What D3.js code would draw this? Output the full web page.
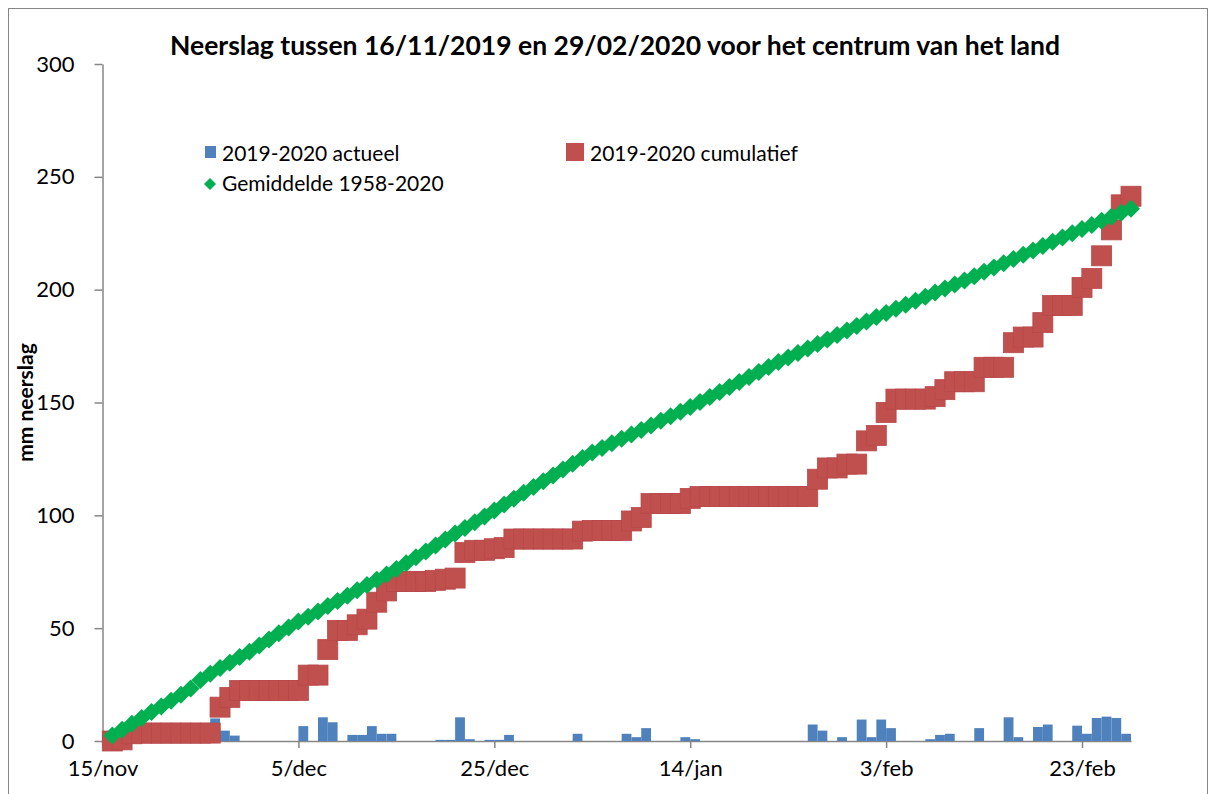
<!DOCTYPE html>
<html>
<head>
<meta charset="utf-8">
<script src="https://cdn.jsdelivr.net/npm/d3@7"></script>
<style>
  body { margin: 0; background: #fff; }
  svg text { font-family: Lato, "Open Sans", sans-serif; fill: #000; }
</style>
</head>
<body>
<svg id="chart" width="1216" height="794"></svg>
<script>
'use strict';

// days after 15/nov (1 = 16/nov ... 105 = 28/feb)
var days = d3.range(1, 106);

var xTickDays = [0, 20, 40, 60, 80, 100];
var xTickLabels = ["15/nov", "5/dec", "25/dec", "14/jan", "3/feb", "23/feb"];
var yTicks = [0, 50, 100, 150, 200, 250, 300];

// daily rainfall (mm), by day number
var actueelDays =   [1, 2, 3, 11, 12, 13, 20, 22, 23, 25, 26, 27, 28, 29, 34, 35, 36, 37, 39, 40, 41, 48, 53, 54, 55, 59, 60,
                     72, 73, 75, 77, 78, 79, 80, 84, 85, 86, 89, 92, 93, 95, 96, 99, 100, 101, 102, 103, 104];
var actueelValues = [0.5, 2.7, 0.3, 10, 4.6, 2.4, 6.6, 10.5, 8.3, 2.7, 2.7, 6.6, 3.2, 3.2, 0.5, 0.5, 10.5, 0.8, 0.5, 0.5, 2.7, 3.2, 3.2, 1.7, 5.7, 1.7, 0.8,
                     7.3, 4.6, 1.7, 9.5, 1.7, 9.5, 5.7, 0.8, 2.7, 3.2, 5.7, 10.5, 1.7, 6.2, 7.3, 6.8, 3.2, 10.2, 10.8, 10.2, 3.2];

// cumulative 2019-2020 (mm), one per day
var cumulatief = [
  0, 0.5, 3.2, 3.5, 3.5, 3.5, 3.5, 3.5, 3.5, 3.5,
  3.5, 15, 19.3, 22.4, 22.4, 22.4, 22.4, 22.4, 22.4, 22.4,
  29.2, 29.2, 40.5, 49, 49, 51.5, 54, 61.5, 66.5, 70.7,
  70.7, 70.7, 70.7, 71.2, 71.7, 72.2, 83.5, 84.5, 84.5, 85.2,
  85.7, 89.5, 89.5, 89.5, 89.5, 89.5, 89.5, 89.5, 93, 93.3,
  93.3, 93.3, 93.3, 97.5, 99, 105.2, 105.2, 105.2, 105.2, 107.5,
  108.3, 108.3, 108.3, 108.3, 108.3, 108.3, 108.3, 108.3, 108.3, 108.3,
  108.3, 108.3, 116, 121, 121, 122.7, 122.7, 133, 135.4, 145.6,
  151.5, 151.5, 151.5, 151.5, 152.6, 155.7, 159.2, 159.2, 159.2, 165.6,
  165.6, 165.6, 176.5, 179, 179, 185.4, 193, 193, 193, 201,
  205, 215, 226.5, 237.6, 241.4
];

// average 1958-2020 (mm), one per day
var gemiddelde = [
  2.4, 5.0, 7.6, 10.2, 12.8, 15.3, 17.8, 20.5, 23.3, 27.0,
  29.8, 32.3, 34.7, 37.2, 39.6, 42.3, 45.0, 47.7, 50.3, 53.0,
  55.1, 57.4, 59.8, 62.0, 64.4, 66.8, 69.1, 71.5, 73.8, 76.2,
  78.8, 81.4, 84.0, 86.6, 89.3, 91.9, 94.4, 96.9, 99.5, 102.1,
  104.8, 107.4, 110.0, 112.6, 115.1, 117.7, 120.3, 122.9, 125.4, 127.8,
  129.8, 131.9, 133.9, 135.8, 137.8, 139.8, 141.9, 143.9, 145.9, 148.0,
  150.2, 152.4, 154.6, 156.9, 159.1, 161.3, 163.5, 165.7, 167.9, 169.9,
  171.9, 173.9, 175.9, 177.9, 179.9, 181.9, 183.9, 185.9, 187.9, 189.7,
  191.5, 193.3, 195.1, 196.9, 198.7, 200.5, 202.3, 204.1, 206.0, 207.9,
  209.8, 211.7, 213.6, 215.5, 217.4, 219.3, 221.2, 223.1, 225.0, 226.9,
  228.7, 230.5, 232.3, 234.1, 235.9
];

var blue = "#4F81BD", red = "#C0504D", green = "#00B050", axisGrey = "#868686";

var svg = d3.select("#chart");

// outer chart border
svg.append("rect")
  .attr("x", 8.5).attr("y", 8.5)
  .attr("width", 1199).attr("height", 800)
  .attr("fill", "none")
  .attr("stroke", axisGrey);

var x = d3.scaleLinear().domain([0, 105]).range([102.5, 1131]);
var y = d3.scaleLinear().domain([0, 300]).range([741, 64]);

// title
svg.append("text")
  .attr("x", 615).attr("y", 55)
  .attr("text-anchor", "middle")
  .style("font-size", "26.5px")
  .style("font-weight", "bold")
  .text("Neerslag tussen 16/11/2019 en 29/02/2020 voor het centrum van het land");

// y axis
var yAxis = svg.append("g")
  .attr("transform", "translate(" + x(0) + ",0)")
  .call(d3.axisLeft(y).tickValues(yTicks).tickSize(8).tickPadding(20).tickSizeOuter(0));

// x axis
var xAxis = svg.append("g")
  .attr("transform", "translate(0," + y(0) + ")")
  .call(d3.axisBottom(x).tickValues(xTickDays).tickSize(7).tickPadding(12).tickSizeOuter(0)
    .tickFormat(function(d, i) { return xTickLabels[i]; }));

[yAxis, xAxis].forEach(function(ax) {
  ax.select(".domain").attr("stroke", axisGrey).attr("stroke-width", 1.5);
  ax.selectAll(".tick line").attr("stroke", axisGrey).attr("stroke-width", 1.5);
  ax.selectAll(".tick text").style("font-size", "22px").style("font-family", "Lato, sans-serif").attr("fill", "#000");
});

// y axis title
svg.append("text")
  .attr("transform", "translate(33," + y(150) + ") rotate(-90)")
  .attr("text-anchor", "middle")
  .style("font-size", "21px")
  .style("font-weight", "bold")
  .text("mm neerslag");

// daily bars
svg.append("g").selectAll("rect")
  .data(actueelDays)
  .join("rect")
    .attr("x", function(d) { return x(d); })
    .attr("width", function(d) { return x(d + 1) - x(d); })
    .attr("y", function(d, i) { return y(actueelValues[i]); })
    .attr("height", function(d, i) { return y(0) - y(actueelValues[i]); })
    .attr("fill", blue);

// cumulative squares
var sq = 20;
svg.append("g").selectAll("rect")
  .data(days)
  .join("rect")
    .attr("x", function(d) { return x(d) - sq / 2; })
    .attr("y", function(d, i) { return y(cumulatief[i]) - sq / 2; })
    .attr("width", sq).attr("height", sq)
    .attr("fill", red)
    .attr("stroke", "#B8484A")
    .attr("stroke-width", 0.8);

// average diamonds
var r = 9;
var diamond = "M0," + (-r) + "L" + r + ",0L0," + r + "L" + (-r) + ",0Z";
svg.append("g").selectAll("path")
  .data(days)
  .join("path")
    .attr("transform", function(d, i) { return "translate(" + x(d) + "," + y(gemiddelde[i]) + ")"; })
    .attr("d", diamond)
    .attr("fill", green);

// legend
var legend = svg.append("g").style("font-size", "21px");
legend.append("rect").attr("x", 205).attr("y", 146).attr("width", 11).attr("height", 12).attr("fill", blue);
legend.append("text").attr("x", 222).attr("y", 161).text("2019-2020 actueel");
legend.append("rect").attr("x", 566).attr("y", 143).attr("width", 18).attr("height", 18).attr("fill", red);
legend.append("text").attr("x", 590).attr("y", 161).text("2019-2020 cumulatief");
legend.append("path").attr("transform", "translate(210,184)")
  .attr("d", "M0,-6L6,0L0,6L-6,0Z").attr("fill", green);
legend.append("text").attr("x", 222).attr("y", 191).text("Gemiddelde 1958-2020");
</script>
</body>
</html>
